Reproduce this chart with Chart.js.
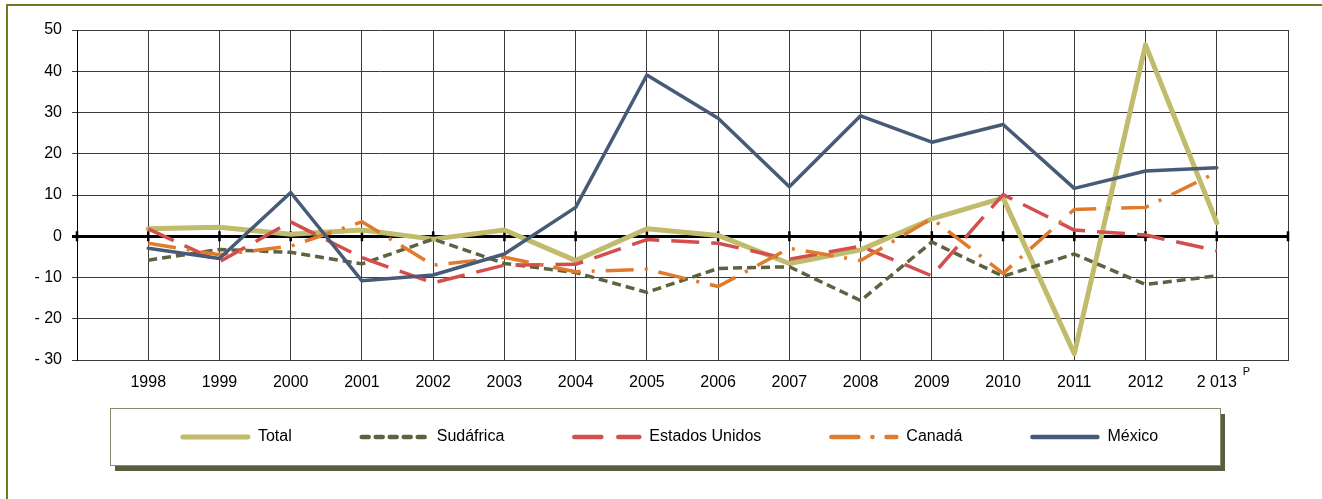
<!DOCTYPE html>
<html>
<head>
<meta charset="utf-8">
<script src="https://cdn.jsdelivr.net/npm/chart.js@4/dist/chart.umd.min.js"></script>
<style>
  html, body { margin: 0; padding: 0; background: #ffffff; }
  #wrap { width: 1322px; height: 499px; position: relative; }
</style>
</head>
<body>
<div id="wrap"><canvas id="c" width="1322" height="499"></canvas></div>
<script>
// ---- data ----
const years = [1998, 1999, 2000, 2001, 2002, 2003, 2004, 2005, 2006, 2007, 2008, 2009, 2010, 2011, 2012, 2013];
const xTickLabels = ['1998', '1999', '2000', '2001', '2002', '2003', '2004', '2005', '2006', '2007', '2008', '2009', '2010', '2011', '2012', '2 013'];
const yTickLabels = ['- 30', '- 20', '- 10', '0', '10', '20', '30', '40', '50'];
const seriesNames = ['Total', 'Sudáfrica', 'Estados Unidos', 'Canadá', 'México'];
const total     = [1.8, 2.2, 0.5, 1.5, -0.7, 1.5, -5.9, 1.8, 0.2, -6.6, -3.3, 4.2, 9.3, -28.5, 46.4, 3.3];
const sudafrica = [-5.8, -3.2, -3.9, -6.7, -0.7, -6.6, -8.8, -13.6, -7.8, -7.4, -15.6, -1.4, -9.7, -4.3, -11.7, -9.6];
const eeuu      = [1.8, -6.2, 3.5, -5.2, -11.3, -7.0, -6.8, -0.8, -1.7, -5.6, -2.4, -9.6, 10.1, 1.5, 0.3, -3.5];
const canada    = [-1.7, -4.5, -2.4, 3.5, -7.0, -5.1, -8.6, -8.0, -12.2, -2.9, -5.9, 4.3, -9.0, 6.5, 7.0, 15.5];
const mexico    = [-2.9, -5.4, 10.6, -10.8, -9.4, -4.3, 7.0, 39.1, 28.6, 12.0, 29.2, 22.8, 27.1, 11.6, 15.8, 16.6];
const superscript = 'P';

const FONT = "'Liberation Sans', Arial, sans-serif";
const pts = (arr) => years.map((yr, i) => ({ x: yr, y: arr[i] }));

const styles = [
  { color: '#C0BC6C', width: 5, dash: [], legendDash: [], cap: 'round', order: 5 },
  { color: '#5D6340', width: 3.5, dash: [9, 5], legendDash: [7, 7], cap: 'butt', order: 4 },
  { color: '#D24F4E', width: 3.5, dash: [28, 12], legendDash: [27, 17], cap: 'butt', order: 3 },
  { color: '#E07A2C', width: 3.5, dash: [28, 11, 3, 11], legendDash: [27, 14, 0.1, 14], cap: 'butt', order: 2 },
  { color: '#475A77', width: 3.5, dash: [], legendDash: [], cap: 'round', order: 1 }
];
const values = [total, sudafrica, eeuu, canada, mexico];

const datasets = seriesNames.map((name, i) => ({
  label: name,
  data: pts(values[i]),
  borderColor: styles[i].color,
  backgroundColor: styles[i].color,
  borderWidth: styles[i].width,
  borderDash: styles[i].dash,
  borderCapStyle: styles[i].cap,
  borderJoinStyle: 'round',
  pointRadius: 0,
  pointHoverRadius: 0,
  tension: 0,
  fill: false,
  order: styles[i].order
}));

// legend drawn from the datasets (boxed, with shadow)
const boxedLegend = {
  id: 'boxedLegend',
  afterDraw(chart) {
    const ctx = chart.ctx;
    ctx.save();
    ctx.fillStyle = '#5B5E3E';
    ctx.fillRect(115, 414, 1110, 57);
    ctx.fillStyle = '#ffffff';
    ctx.fillRect(110, 408, 1110, 57);
    ctx.strokeStyle = '#8C8C6C';
    ctx.lineWidth = 1;
    ctx.strokeRect(110.5, 408.5, 1110, 57);

    const lineLen = 70, textGap = 8, itemGap = 67, cy = 437, center = 669;
    ctx.font = '16px ' + FONT;
    const ds = chart.data.datasets;
    const widths = ds.map(d => lineLen + textGap + ctx.measureText(d.label).width);
    const totalW = widths.reduce((a, b) => a + b, 0) + itemGap * (ds.length - 1);
    let x = center - totalW / 2;
    ds.forEach((d, i) => {
      ctx.save();
      ctx.strokeStyle = d.borderColor;
      ctx.lineWidth = i === 0 ? 5 : 4.5;
      ctx.lineCap = 'round';
      ctx.setLineDash(styles[i].legendDash);
      ctx.beginPath();
      ctx.moveTo(x + 3, cy);
      ctx.lineTo(x + lineLen - 2, cy);
      ctx.stroke();
      ctx.restore();
      ctx.fillStyle = '#000';
      ctx.textAlign = 'left';
      ctx.textBaseline = 'middle';
      ctx.fillText(d.label, x + lineLen + textGap, cy);
      x += widths[i] + itemGap;
    });
    ctx.restore();
  }
};

const decor = {
  id: 'decor',
  beforeDraw(chart) {
    const ctx = chart.ctx;
    ctx.save();
    ctx.fillStyle = '#ffffff';
    ctx.fillRect(0, 0, chart.width, chart.height);
    ctx.strokeStyle = '#747622';
    ctx.lineWidth = 2;
    ctx.beginPath();
    ctx.moveTo(7, chart.height + 5);
    ctx.lineTo(7, 5);
    ctx.lineTo(chart.width + 5, 5);
    ctx.stroke();
    ctx.restore();
  },
  beforeDatasetsDraw(chart) {
    const ctx = chart.ctx;
    const xs = chart.scales.x, ys = chart.scales.y;
    const y0 = ys.getPixelForValue(0);
    ctx.save();
    ctx.strokeStyle = '#000';
    ctx.lineWidth = 2.5;
    ctx.beginPath();
    xs.ticks.forEach(t => {
      const px = xs.getPixelForValue(t.value);
      ctx.moveTo(px, y0 - 5);
      ctx.lineTo(px, y0 + 5);
    });
    ctx.stroke();
    ctx.restore();
  },
  afterDraw(chart) {
    const ctx = chart.ctx;
    const xs = chart.scales.x;
    const last = years[years.length - 1];
    ctx.save();
    ctx.font = '16px ' + FONT;
    const w = ctx.measureText(xTickLabels[xTickLabels.length - 1]).width;
    const px = xs.getPixelForValue(last) + w / 2 + 6;
    ctx.font = '11px ' + FONT;
    ctx.fillStyle = '#000';
    ctx.textAlign = 'left';
    ctx.textBaseline = 'middle';
    ctx.fillText(superscript, px, 372);
    ctx.restore();
  }
};

new Chart(document.getElementById('c'), {
  type: 'line',
  data: { datasets },
  plugins: [decor, boxedLegend],
  options: {
    responsive: false,
    animation: false,
    events: [],
    layout: { padding: { left: 0, right: 34, top: 30, bottom: 99 } },
    plugins: {
      tooltip: { enabled: false },
      title: { display: false },
      legend: { display: false }
    },
    scales: {
      x: {
        type: 'linear',
        min: years[0] - 1,
        max: years[years.length - 1] + 1,
        afterFit: (s) => { s.height = 40; },
        grid: { color: '#3a3a3a', lineWidth: 1, drawTicks: false },
        border: { display: true, color: '#3a3a3a' },
        ticks: {
          stepSize: 1,
          autoSkip: false,
          maxRotation: 0,
          padding: 13,
          color: '#000',
          font: { family: FONT, size: 16 },
          callback: (v) => {
            const i = years.indexOf(v);
            return i >= 0 ? xTickLabels[i] : '';
          }
        }
      },
      y: {
        min: -30,
        max: 50,
        afterFit: (s) => { s.width = 77; },
        grid: {
          color: (c) => (c.tick && c.tick.value === 0 ? '#000' : '#3a3a3a'),
          lineWidth: (c) => (c.tick && c.tick.value === 0 ? 3 : 1),
          tickLength: 5
        },
        border: { display: true, color: '#000', width: 1 },
        ticks: {
          stepSize: 10,
          padding: 10,
          color: '#000',
          font: { family: FONT, size: 16 },
          callback: (v, idx) => yTickLabels[idx]
        }
      }
    }
  }
});
</script>
</body>
</html>
